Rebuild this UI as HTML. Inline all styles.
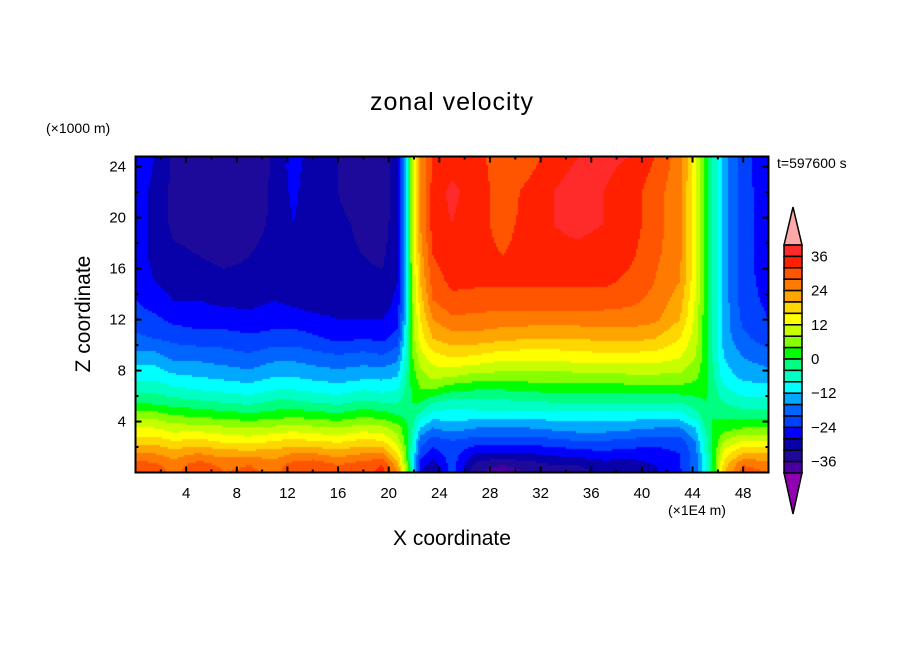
<!DOCTYPE html>
<html><head><meta charset="utf-8"><style>
body{margin:0;background:#fff;}
#wrap{position:relative;width:904px;height:654px;overflow:hidden;font-family:"Liberation Sans",sans-serif;color:#000;}
.t{position:absolute;white-space:nowrap;}
</style></head><body>
<div id="wrap">
<div class="t" style="left:0;width:904px;text-align:center;top:88px;font-size:25px;letter-spacing:1px;">zonal velocity</div>
<div class="t" style="left:46px;top:120px;font-size:14px;">(×1000 m)</div>
<div class="t" style="left:777px;top:155px;font-size:14px;">t=597600 s</div>
<div class="t" style="left:84px;top:314px;font-size:21px;transform:translate(-50%,-50%) rotate(-90deg);">Z coordinate</div>
<div class="t" style="left:0;width:904px;text-align:center;top:527px;font-size:21px;">X coordinate</div>
<div class="t" style="left:668px;top:502px;font-size:14px;">(×1E4 m)</div>
<canvas id="cv" width="904" height="654" style="position:absolute;left:0;top:0;"></canvas>
<svg id="ov" width="904" height="654" style="position:absolute;left:0;top:0;"></svg>
</div>
<script>
const xs=[0,1.5,3,5,7,9,11,12.5,14,16,18,19.5,20.7,21.4,21.9,22.5,23.5,25,27,29,31,33,35,37,39,41,43,44.2,45,45.6,46.5,48,50];
const zs=[0,0.6,1.5,2.5,3.5,4.5,5.5,6.5,7.5,9,10.5,12,13.5,15,17,19.5,22,24.8];
const row0=[31,30,27,31,28,29,27,31,32,29,31,33,24,8,-8,-28,-32,-22,-36,-38,-36,-33,-33,-31,-31,-29,-25,-18,-10,0,20,30,28];
const row1=[30,29,26,30,27,28,26,30,31,28,30,32,22,6,-8,-26,-30,-22,-34,-36,-34,-32,-32,-30,-30,-28,-24,-18,-10,0,18,28,26];
const row2=[24,24,22,24,22,22,22,24,24,22,24,24,16,4,-8,-22,-26,-22,-28,-28,-28,-27,-26,-25,-26,-26,-24,-18,-8,0,14,20,20];
const row3=[18,18,16,17,15,14,16,17,16,15,17,16,10,2,-6,-18,-22,-20,-22,-22,-22,-21,-20,-20,-21,-22,-22,-16,-6,0,8,12,12];
const row4=[12,12,10,10,9,8,9,10,9,8,10,9,6,1,-4,-12,-16,-14,-16,-16,-16,-15,-14,-14,-15,-16,-16,-12,-4,0,2,4,4];
const row5=[6,6,4,3,2,1,2,3,2,1,3,2,0,-1,-2,-6,-10,-10,-10,-10,-10,-10,-10,-10,-10,-10,-10,-6,-2,0,-1,-2,-2];
const row6=[0,-1,-2,-3,-4,-5,-3,-3,-4,-5,-3,-4,-4,-2,0,0,-4,-6,-5,-5,-5,-4,-4,-4,-4,-4,-4,-2,0,-1,-4,-6,-6];
const row7=[-5,-5,-7,-8,-9,-10,-8,-8,-9,-10,-8,-9,-8,-3,1,4,4,1,0,0,1,1,1,1,2,2,2,2,1,-2,-7,-10,-10];
const row8=[-9,-9,-11,-12,-13,-14,-12,-12,-13,-14,-13,-13,-12,-4,2,6,9,8,6,6,6,6,6,6,7,7,7,5,1,-3,-10,-13,-14];
const row9=[-14,-14,-17,-17,-18,-19,-17,-17,-18,-19,-18,-19,-17,-6,4,10,14,16,15,13,13,13,14,14,14,14,12,8,2,-4,-12,-16,-18];
const row10=[-19,-20,-21,-22,-22,-23,-22,-22,-23,-25,-24,-25,-22,-8,6,14,20,22,22,21,20,20,20,21,21,20,16,10,2,-4,-14,-19,-22];
const row11=[-22,-23,-25,-26,-26,-27,-26,-26,-27,-28,-28,-28,-26,-10,6,16,24,27,27,26,26,26,26,26,26,25,20,11,2,-4,-14,-21,-24];
const row12=[-24,-26,-28,-28,-29,-29,-28,-29,-30,-29,-29,-30,-27,-10,8,18,28,31,30,30,30,30,30,30,29,27,22,12,2,-4,-14,-22,-25];
const row13=[-26,-28,-30,-30,-31,-31,-30,-30,-31,-31,-31,-31,-28,-10,8,20,30,33,33,33,33,33,33,33,31,28,24,13,2,-4,-14,-22,-26];
const row14=[-26,-29,-31,-32,-33,-32,-30,-30,-31,-31,-32,-33,-28,-10,10,22,32,35,33,32,33,35,35,34,33,29,25,14,2,-4,-14,-22,-27];
const row15=[-26,-29,-33,-34,-33,-34,-31,-28,-31,-31,-33,-35,-28,-10,10,24,34,36,33,31,33,36,37,36,34,30,25,14,2,-4,-14,-22,-27];
const row16=[-26,-29,-33,-34,-35,-35,-31,-27,-31,-32,-35,-36,-28,-10,10,24,34,37,34,30,33,36,38,36,34,30,25,14,2,-4,-14,-22,-27];
const row17=[-25,-28,-33,-34,-35,-36,-31,-26,-30,-32,-36,-36,-28,-10,10,24,32,34,33,30,30,34,36,37,36,32,26,14,2,-4,-14,-22,-28];
const grid=[row0,row1,row2,row3,row4,row5,row6,row7,row8,row9,row10,row11,row12,row13,row14,row15,row16,row17];
const levelColors=['#ff2a2a','#ff2000','#ff5500','#ff7a00','#ffa500','#ffd700','#ffff00','#c8ff00','#88ff00','#00ff00','#00ff80','#00ffc4','#00ffff','#00a8ff','#0064ff','#0040ff','#0000ff','#0800a8','#1e0a9a','#4a00a0'];
const overColor='#ffa8a8', underColor='#9000b0';
const colorbarLabels=['36','24','12','0','−12','−24','−36'];
const colorbarLabelVals=[36,24,12,0,-12,-24,-36];
const xTickVals=[4,8,12,16,20,24,28,32,36,40,44,48];
const yTickVals=[4,8,12,16,20,24];

const PX0=135.5,PX1=768.5,PY0=472.5,PY1=156.5,XMAX=50,ZMAX=24.8;
const sx=v=>PX0+(v/XMAX)*(PX1-PX0);
const sy=v=>PY0-(v/ZMAX)*(PY0-PY1);
const ix=px=>(px-PX0)/(PX1-PX0)*XMAX;
const iz=py=>(PY0-py)/(PY0-PY1)*ZMAX;
function seg(arr,v){let i=0;while(i<arr.length-2&&v>arr[i+1])i++;return i;}
function val(x,z){
  const i=seg(xs,x),j=seg(zs,z);
  let tx=(x-xs[i])/(xs[i+1]-xs[i]),tz=(z-zs[j])/(zs[j+1]-zs[j]);
  tx=Math.max(0,Math.min(1,tx));tz=Math.max(0,Math.min(1,tz));
  const a=grid[j][i],b=grid[j][i+1],c=grid[j+1][i],d=grid[j+1][i+1];
  return (a*(1-tx)+b*tx)*(1-tz)+(c*(1-tx)+d*tx)*tz;
}
function colorOf(v){
  if(v>=40)return overColor; if(v<-40)return underColor;
  let k=Math.floor((40-v)/4); if(k>19)k=19; return levelColors[k];
}
const cv=document.getElementById('cv'),ctx=cv.getContext('2d');
const S=2;
for(let py=157;py<472;py+=S){
  for(let px=136;px<768;px+=S){
    ctx.fillStyle=colorOf(val(ix(px+S/2),iz(py+S/2)));
    ctx.fillRect(px,py,S,S);
  }
}
const CBX=784,CBW=18,CBT=245,CBB=473;
const bh=(CBB-CBT)/levelColors.length;
const NS='http://www.w3.org/2000/svg';
const ov=document.getElementById('ov');
function mk(tag,attrs){const e=document.createElementNS(NS,tag);for(const k in attrs)e.setAttribute(k,attrs[k]);ov.appendChild(e);return e;}
const triTop=mk('polygon',{points:`${CBX},${CBT} ${CBX+CBW/2},207 ${CBX+CBW},${CBT}`,fill:overColor,stroke:'#000','stroke-width':1.5});


const triBot=mk('polygon',{points:`${CBX},${CBB} ${CBX+CBW/2},514 ${CBX+CBW},${CBB}`,fill:underColor,stroke:'#000','stroke-width':1.5});


levelColors.forEach((c,k)=>{
  const r=mk('rect',{x:CBX,y:CBT+k*bh,width:CBW,height:bh,fill:c,stroke:'#000','stroke-width':1.5});
  
  
});
const cbY=v=>CBT+(40-v)/4*bh;
colorbarLabelVals.forEach((v,i)=>{
  const t=mk('text',{x:811,y:cbY(v)+5,'font-size':15,'font-family':'Liberation Sans, sans-serif'});
  t.textContent=colorbarLabels[i];
  
  
});
const fr=mk('rect',{x:PX0,y:PY1,width:PX1-PX0,height:PY0-PY1,fill:'none',stroke:'#000','stroke-width':2});


for(let v=2;v<50;v+=2){
  const L=(v%4===0)?6:3,X=sx(v);
  mk('line',{x1:X,y1:PY0,x2:X,y2:PY0-L,stroke:'#000','stroke-width':2});
  mk('line',{x1:X,y1:PY1,x2:X,y2:PY1+L,stroke:'#000','stroke-width':2});
}
for(let v=2;v<=24;v+=2){
  const L=(v%4===0)?6:3,Y=sy(v);
  mk('line',{x1:PX0,y1:Y,x2:PX0+L,y2:Y,stroke:'#000','stroke-width':2});
  mk('line',{x1:PX1,y1:Y,x2:PX1-L,y2:Y,stroke:'#000','stroke-width':2});
}
xTickVals.forEach(v=>{
  const t=mk('text',{x:sx(v),y:498,'font-size':15,'text-anchor':'middle','font-family':'Liberation Sans, sans-serif'});
  t.textContent=String(v);
  
  
});
yTickVals.forEach(v=>{
  const t=mk('text',{x:126,y:sy(v)+5,'font-size':15,'text-anchor':'end','font-family':'Liberation Sans, sans-serif'});
  t.textContent=String(v);
  
  
});
</script>
</body></html>
